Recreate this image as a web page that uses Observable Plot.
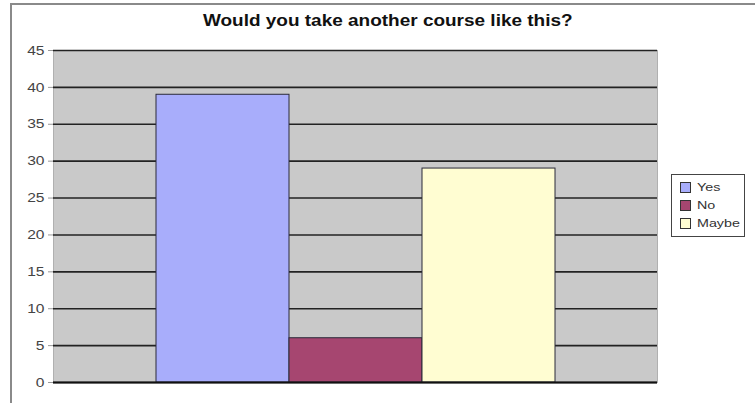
<!DOCTYPE html>
<html>
<head>
<meta charset="utf-8">
<script src="https://cdn.jsdelivr.net/npm/d3@7"></script>
<script src="https://cdn.jsdelivr.net/npm/@observablehq/plot@0.6"></script>
<style>
  html, body { margin: 0; padding: 0; background: #fff; }
  #wrap { position: relative; width: 755px; height: 403px; overflow: hidden; font-family: "Liberation Sans", Arial, sans-serif; }
  #border { position: absolute; left: 10px; top: 3px; width: 760px; height: 420px; border-top: 2px solid #8a8a8a; border-left: 2px solid #8a8a8a; }
  #title { position: absolute; left: 0; width: 776px; top: 11px; text-align: center; font-weight: bold; font-size: 16.5px; color: #111; }
  #title span { display: inline-block; transform: scaleX(1.15); transform-origin: center; }
  #chart { position: absolute; left: 0; top: 0; }
  #legend { position: absolute; left: 671px; top: 174px; width: 74px; height: 63px; border: 1px solid #444; background: #fff; box-sizing: border-box; padding-top: 3px; }
  .item { display: flex; align-items: center; height: 18px; padding-left: 8px; font-size: 11px; color: #333; }
  .sw { width: 9px; height: 9px; border: 1px solid #333; margin-right: 6px; flex: none; }
  .lt { display: inline-block; transform: scaleX(1.3); transform-origin: left center; }
</style>
</head>
<body>
<div id="wrap">
  <div id="border"></div>
  <div id="chart"></div>
  <div id="title"></div>
  <div id="legend"></div>
</div>
<script>
const title = "Would you take another course like this?";
const categories = ["Yes", "No", "Maybe"];
const values = [39, 6, 29];
const colors = ["#a8adfb", "#a64670", "#fffdd2"];
const yTicks = [0, 5, 10, 15, 20, 25, 30, 35, 40, 45];

const data = categories.map((c, i) => ({cat: c, value: values[i]}));

const chart = Plot.plot({
  width: 755,
  height: 403,
  marginLeft: 53,
  marginRight: 98,
  marginTop: 50,
  marginBottom: 21,
  style: {background: "transparent", fontFamily: "'Liberation Sans', Arial, sans-serif", fontSize: "13px"},
  x: {domain: categories, paddingInner: 0, paddingOuter: 0.765, axis: null},
  y: {domain: [0, 45], ticks: yTicks},
  color: {domain: categories, range: colors},
  marks: [
    Plot.frame({fill: "#c9c9c9", stroke: "#b0b0b0"}),
    Plot.ruleY(yTicks, {stroke: "#222", strokeWidth: 1.6}),
    Plot.barY(data, {x: "cat", y: "value", fill: "cat", stroke: "#2a2a3a", strokeWidth: 1}),
    Plot.ruleY([0], {stroke: "#111", strokeWidth: 2}),
    Plot.axisY({ticks: yTicks, tickSize: 5, tickPadding: 4, stroke: "#999", color: "#444", label: null})
  ]
});
// widen tick label glyphs horizontally, anchored at their right edge
d3.select(chart).selectAll('g[aria-label="y-axis tick label"] text').each(function() {
  const t = this.getAttribute("transform") || "";
  this.setAttribute("transform", t + " scale(1.2,1)");
});
document.getElementById("chart").appendChild(chart);
const ts = document.createElement("span");
ts.textContent = title;
document.getElementById("title").appendChild(ts);

const legend = document.getElementById("legend");
categories.forEach((c, i) => {
  const it = document.createElement("div");
  it.className = "item";
  const sw = document.createElement("span");
  sw.className = "sw";
  sw.style.background = colors[i];
  const t = document.createElement("span");
  t.className = "lt";
  t.textContent = c;
  it.appendChild(sw);
  it.appendChild(t);
  legend.appendChild(it);
});
</script>
</body>
</html>
